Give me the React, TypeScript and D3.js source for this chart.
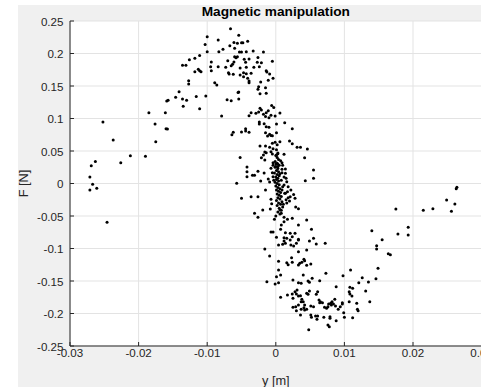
import React from "react";
import * as d3 from "d3";

// [y position (m), force (N)] pairs
const leftBranch: [number, number][] = [
  [-0.0252,0.0946],[-0.0237,0.067],[-0.0269,0.0274],[-0.0263,0.034],[-0.0271,0.010],[-0.0267,-0.001],[-0.0271,-0.010],[-0.0261,-0.0074],[-0.0246,-0.0597],[-0.0226,0.032],[-0.0212,0.0428],[-0.0190,0.0418],[-0.0185,0.109],[-0.0176,0.0915],[-0.0175,0.0643],[-0.0161,0.109],[-0.0160,0.0843],[-0.0158,0.0838],[-0.0159,0.127],[-0.0157,0.128],[-0.0146,0.1326],[-0.0141,0.141],[-0.0136,0.130],[-0.0135,0.1187],[-0.0130,0.128],[-0.0116,0.134],[-0.0111,0.115],[-0.0102,0.1346],[-0.0079,0.1038],[-0.0071,0.129],[-0.0065,0.1274],[-0.0055,0.140],[-0.0054,0.130],[-0.0064,0.075],[-0.0062,0.0788],[-0.0052,0.040],[-0.0057,0.0003],
];

const peak: [number, number][] = [
  [-0.0066,0.238],[-0.0100,0.2258],[-0.0054,0.228],[-0.0084,0.2208],[-0.0103,0.214],[-0.0067,0.212],[-0.0061,0.217],[-0.0056,0.2157],[-0.0050,0.2166],[-0.0048,0.2166],[-0.0041,0.2188],[-0.0077,0.2065],[-0.0083,0.2028],[-0.0100,0.2028],[-0.0060,0.208],[-0.0053,0.2023],[-0.0050,0.2023],[-0.0043,0.2028],[-0.0033,0.2038],[-0.0018,0.2023],[-0.0111,0.197],[-0.0118,0.1926],[-0.0126,0.1905],[-0.0131,0.182],[-0.0136,0.1818],[-0.0060,0.195],[-0.0056,0.195],[-0.0058,0.1935],[-0.0046,0.191],[-0.0039,0.1915],[-0.0026,0.194],[-0.0094,0.187],[-0.0070,0.189],[-0.0061,0.187],[-0.0063,0.1834],[-0.0044,0.1865],[-0.0027,0.1865],[-0.0021,0.1858],[-0.0005,0.188],[-0.0095,0.1797],[-0.0094,0.1735],[-0.0084,0.1797],[-0.0073,0.1788],[-0.0065,0.181],[-0.0052,0.1777],[-0.0043,0.1788],[-0.0032,0.179],[-0.0024,0.1797],[-0.0069,0.1705],[-0.0068,0.1685],[-0.0062,0.168],[-0.0052,0.167],[-0.0047,0.1705],[-0.0043,0.169],[-0.0036,0.1695],[-0.0014,0.1735],[-0.0013,0.1715],[-0.0009,0.1685],[-0.0118,0.172],[-0.0113,0.1757],[-0.0111,0.1735],[-0.0109,0.172],[-0.0047,0.1643],[-0.0041,0.1618],[-0.0039,0.1577],[-0.0039,0.155],[-0.0022,0.156],[-0.0011,0.159],[-0.0004,0.1618],[-0.0089,0.155],[-0.0086,0.1515],[-0.0127,0.158],[-0.0127,0.153],[-0.0025,0.149],[-0.0026,0.145],[-0.0015,0.1474],[-0.0023,0.138],[-0.0014,0.1388],[-0.0054,0.1408],
];

const upperCenter: [number, number][] = [
  [-0.0023,0.1157],[-0.0021,0.113],[-0.0025,0.110],[-0.0018,0.1065],[-0.0014,0.109],[-0.0011,0.112],[-0.0036,0.109],[-0.0039,0.1043],[-0.0029,0.108],[-0.0006,0.120],[-0.0003,0.117],[-0.0007,0.105],[-0.0010,0.101],[-0.0015,0.103],[-0.0001,0.104],[0.0006,0.1085],[-0.0024,0.0946],[-0.0024,0.0915],[-0.0017,0.092],[-0.0014,0.0874],[-0.0010,0.0865],[0.0001,0.0915],[0.0013,0.0935],[0.0024,0.0843],[-0.0044,0.0843],[-0.0050,0.0792],[-0.0044,0.0808],[-0.0039,0.0788],[-0.0015,0.078],[-0.0012,0.073],[-0.0009,0.0757],[-0.0007,0.074],[-0.0005,0.0735],[0.0001,0.078],[0.0020,0.0654],[0.0024,0.0612],[0.0031,0.0557],[0.0036,0.0557],[0.0046,0.053],[0.0042,0.0397],[0.0006,0.0643],[-0.0005,0.0618],[-0.0001,0.0634],[-0.0023,0.0577],[-0.0015,0.0577],[-0.0016,0.0485],[-0.0009,0.0557],[-0.0004,0.0535],[0.0002,0.0597],
];

const center: [number, number][] = [
  [-0.0014,0.0474],[-0.0007,0.049],[-0.0005,0.0454],[0.0001,0.0438],[0.0003,0.0458],[-0.0018,0.0438],[-0.0021,0.0397],[-0.0016,0.0362],[-0.0004,0.032],[0.0000,0.030],[0.0003,0.0295],[0.0009,0.032],[0.0010,0.028],[-0.0001,0.025],[0.0003,0.0258],[-0.0042,0.0254],[-0.0042,0.018],[-0.0042,0.0105],[-0.0034,0.0126],[-0.0031,0.0126],[-0.0026,0.0188],[-0.0017,0.0162],[-0.0007,0.0234],[-0.0005,0.0166],[-0.0004,0.0105],[0.0009,0.0166],[0.0014,0.0223],[0.0014,0.0157],[0.0055,0.0208],[0.0055,0.008],[0.0043,0.0043],[-0.0022,0.0038],[-0.0011,0.0069],[-0.0009,0.0023],[0.0015,0.008],[0.0016,0.0028],[0.0012,-0.0023],[-0.0015,-0.010],[-0.0050,-0.0228],[-0.0036,-0.0203],[-0.0026,-0.0203],[0.0021,-0.0203],[0.0028,-0.0228],[0.0020,-0.0269],[0.0014,-0.0151],[0.0017,-0.0126],[-0.0007,-0.0243],[-0.0006,-0.031],[0.0029,-0.0362],[0.0033,-0.0388],[-0.0019,-0.0408],[-0.0031,-0.0458],[-0.0026,-0.052],[-0.0008,-0.0392],[-0.0002,-0.055],[0.0000,-0.050],[0.0006,-0.0408],[0.0008,-0.0458],[0.0012,-0.052],[0.0017,-0.055],[0.0024,-0.0535],[0.0012,-0.0588],[0.0008,-0.0638],[0.0045,-0.056],[0.0052,-0.0705],[0.0033,-0.0638],[0.0018,-0.005],[0.0022,-0.010],[0.0026,-0.017],
];

const column: [number, number][] = [
  [0.0001,0.052],[0.0003,0.047],[0.0000,0.043],[0.0002,0.040],[0.0004,0.037],[-0.0001,0.034],[0.0002,0.031],[0.0005,0.028],[0.0000,0.026],[0.0003,0.023],[0.0001,0.020],[0.0004,0.018],[-0.0002,0.016],[0.0002,0.014],[0.0005,0.012],[0.0000,0.010],[0.0003,0.008],[0.0001,0.006],[0.0004,0.004],[-0.0001,0.002],[0.0002,0.000],[0.0005,-0.002],[0.0000,-0.004],[0.0003,-0.006],[0.0006,-0.008],[0.0001,-0.010],[0.0004,-0.012],[0.0007,-0.014],[0.0002,-0.016],[0.0005,-0.018],[0.0008,-0.020],[0.0003,-0.022],[0.0006,-0.024],[0.0001,-0.026],[0.0009,-0.028],[0.0004,-0.030],[0.0007,-0.032],[0.0002,-0.034],[0.0010,-0.036],[0.0005,-0.038],[0.0008,-0.041],[0.0003,-0.044],[0.0006,-0.047],[0.0012,0.010],[0.0010,-0.005],[0.0013,-0.015],[0.0015,-0.025],[0.0011,-0.032],[-0.0003,0.005],[-0.0004,0.028],[0.0008,0.005],[0.0009,0.022],[0.0007,0.035],[0.0012,0.045],[0.0016,-0.030],[0.0018,-0.022],[0.0006,0.015],[0.0009,-0.010],
];

const lowerCenter: [number, number][] = [
  [-0.0007,-0.0746],[-0.0004,-0.0746],[0.0001,-0.0828],[0.0007,-0.0705],[0.0014,-0.0757],[0.0012,-0.0834],[0.0021,-0.0766],[0.0024,-0.0818],[0.0033,-0.0858],[0.0028,-0.0766],[0.0016,-0.0843],[0.0021,-0.0869],[0.0012,-0.0885],[0.0014,-0.092],[0.0010,-0.0935],[0.0004,-0.0946],[0.0022,-0.0946],[0.0026,-0.0962],[0.0030,-0.092],[0.0033,-0.0869],[0.0049,-0.0885],[0.0055,-0.0843],[0.0059,-0.0931],[0.0072,-0.092],[-0.0016,-0.1008],[-0.0009,-0.1115],[0.0033,-0.1049],[0.0045,-0.1023],[0.0023,-0.1141],[0.0024,-0.1212],[0.0016,-0.1218],[0.0018,-0.1249],[0.0004,-0.1197],[0.0041,-0.1166],[0.0042,-0.1187],[0.0038,-0.1212],[0.0035,-0.1228],[0.0033,-0.1254],[0.0045,-0.1258],[0.0051,-0.1238],[0.0004,-0.1331],[0.0001,-0.1434],[0.0007,-0.1408],[-0.0013,-0.1511],[-0.0001,-0.1546],[0.0004,-0.1526],[0.0025,-0.1485],[0.0033,-0.1526],[0.0037,-0.1535],[0.0040,-0.1408],[0.0047,-0.150],[0.0049,-0.152],[0.0053,-0.1458],[0.0064,-0.1495],[0.0073,-0.1382],
];

const bottom: [number, number][] = [
  [0.0007,-0.1751],[0.0017,-0.1715],[0.0024,-0.170],[0.0025,-0.1766],[0.0030,-0.170],[0.0028,-0.1665],[0.0031,-0.1638],[0.0033,-0.173],[0.0036,-0.1726],[0.0038,-0.1782],[0.0037,-0.1818],[0.0033,-0.187],[0.0029,-0.1895],[0.0025,-0.1905],[0.0030,-0.1957],[0.0042,-0.187],[0.0041,-0.191],[0.0040,-0.1818],[0.0045,-0.169],[0.0047,-0.1705],[0.0051,-0.1885],[0.0055,-0.1895],[0.0037,-0.1935],[0.0042,-0.1946],[0.0045,-0.1935],[0.0036,-0.2023],[0.0051,-0.2023],[0.0052,-0.2058],[0.0058,-0.2038],[0.0061,-0.2038],[0.0060,-0.209],[0.0048,-0.2249],[0.0061,-0.1665],[0.0059,-0.1705],[0.0063,-0.1792],[0.0065,-0.1818],[0.0068,-0.1834],[0.0064,-0.1834],[0.0071,-0.1905],[0.0074,-0.192],[0.0076,-0.1895],[0.0080,-0.1843],[0.0082,-0.1818],[0.0084,-0.1854],[0.0086,-0.1782],[0.0077,-0.1854],[0.0081,-0.187],[0.0087,-0.1885],[0.0091,-0.1935],[0.0094,-0.1895],[0.0097,-0.1854],[0.0097,-0.1834],[0.0070,-0.2058],[0.0079,-0.2049],[0.0079,-0.2074],[0.0088,-0.2111],[0.0076,-0.2177],[0.0078,-0.2203],[0.0099,-0.1988],[0.0100,-0.2058],[0.0112,-0.2065],[0.0088,-0.1588],[0.0098,-0.1418],[0.0049,-0.1654],
];

const rightBranch: [number, number][] = [
  [0.0108,-0.1597],[0.0112,-0.1612],[0.0107,-0.1665],[0.0108,-0.170],[0.0111,-0.173],[0.0109,-0.1331],[0.0107,-0.1818],[0.0118,-0.1843],[0.0119,-0.1935],[0.0120,-0.1957],[0.0131,-0.1654],[0.0137,-0.1818],[0.0121,-0.1526],[0.0126,-0.1449],[0.0135,-0.1515],[0.0146,-0.1465],[0.0149,-0.1305],[0.0147,-0.0957],[0.0147,-0.1008],[0.0140,-0.0726],[0.0264,-0.0058],[0.0263,-0.008],[0.0249,-0.0254],[0.0261,-0.0315],[0.0256,-0.0428],[0.0229,-0.0388],[0.0215,-0.0412],[0.0175,-0.0392],[0.0193,-0.0674],[0.0193,-0.0792],[0.0178,-0.0777],[0.0155,-0.0864],[0.0164,-0.108],[0.0167,-0.1095],
];

const xTicks = [-0.03, -0.02, -0.01, 0, 0.01, 0.02, 0.03];
const xTickLabels = ["-0.03", "-0.02", "-0.01", "0", "0.01", "0.02", "0.03"];
const yTicks = [0.25, 0.2, 0.15, 0.1, 0.05, 0, -0.05, -0.1, -0.15, -0.2, -0.25];
const yTickLabels = ["0.25", "0.2", "0.15", "0.1", "0.05", "0", "-0.05", "-0.1", "-0.15", "-0.2", "-0.25"];

const W = 481;
const H = 387;
const L = 70, R = 481.6, T = 21, B = 346;
const FONT = "'Liberation Sans', Arial, Helvetica, sans-serif";
const AX = "#262626";

export default function App() {
  const x = d3.scaleLinear().domain([-0.03, 0.03]).range([L, R]);
  const y = d3.scaleLinear().domain([-0.25, 0.25]).range([B, T]);
  const pts = [...leftBranch, ...peak, ...upperCenter, ...center, ...column, ...lowerCenter, ...bottom, ...rightBranch];

  return (
    <svg width={W} height={H} style={{ position: "absolute", left: 0, top: 0, overflow: "hidden" }}>
      <rect x={0} y={0} width={W} height={H} fill="#ffffff" />
      <rect x={18} y={5} width={W - 18} height={H - 5} fill="#f0f0f0" />
      <rect x={L} y={T} width={R - L + 2} height={B - T} fill="#ffffff" />
      {xTicks.map((t) => (
        <line key={"gx" + t} x1={x(t)} x2={x(t)} y1={T} y2={B} stroke="#e3e3e3" strokeWidth={1} />
      ))}
      {yTicks.map((t) => (
        <line key={"gy" + t} x1={L} x2={R + 2} y1={y(t)} y2={y(t)} stroke="#e3e3e3" strokeWidth={1} />
      ))}
      {pts.map((p, i) => (
        <circle key={i} cx={x(p[0])} cy={y(p[1])} r={1.5} fill="#000" />
      ))}
      <line x1={L} x2={L} y1={T} y2={B} stroke={AX} strokeWidth={1} />
      <line x1={L} x2={R + 2} y1={B} y2={B} stroke={AX} strokeWidth={1} />
      {xTicks.map((t, i) => (
        <g key={"tx" + t}>
          <line x1={x(t)} x2={x(t)} y1={B} y2={B - 4} stroke={AX} />
          <text x={x(t)} y={352} textAnchor="middle" dominantBaseline="central" fontFamily={FONT} fontSize={11.6} fill={AX}>
            {xTickLabels[i]}
          </text>
        </g>
      ))}
      {yTicks.map((t, i) => (
        <g key={"ty" + t}>
          <line x1={L} x2={L + 4} y1={y(t)} y2={y(t)} stroke={AX} />
          <text x={63.5} y={y(t)} textAnchor="end" dominantBaseline="central" fontFamily={FONT} fontSize={11.6} fill={AX}>
            {yTickLabels[i]}
          </text>
        </g>
      ))}
      <text x={(L + R) / 2} y={15.5} textAnchor="middle" fontFamily={FONT} fontWeight="bold" fontSize={13.7} fill="#000">
        Magnetic manipulation
      </text>
      <text x={(L + R) / 2} y={380} textAnchor="middle" dominantBaseline="central" fontFamily={FONT} fontSize={12.8} fill={AX}>
        y [m]
      </text>
      <text transform={`translate(23.5, ${(T + B) / 2}) rotate(-90)`} textAnchor="middle" dominantBaseline="central" fontFamily={FONT} fontSize={12.8} fill={AX}>
        F [N]
      </text>
    </svg>
  );
}
